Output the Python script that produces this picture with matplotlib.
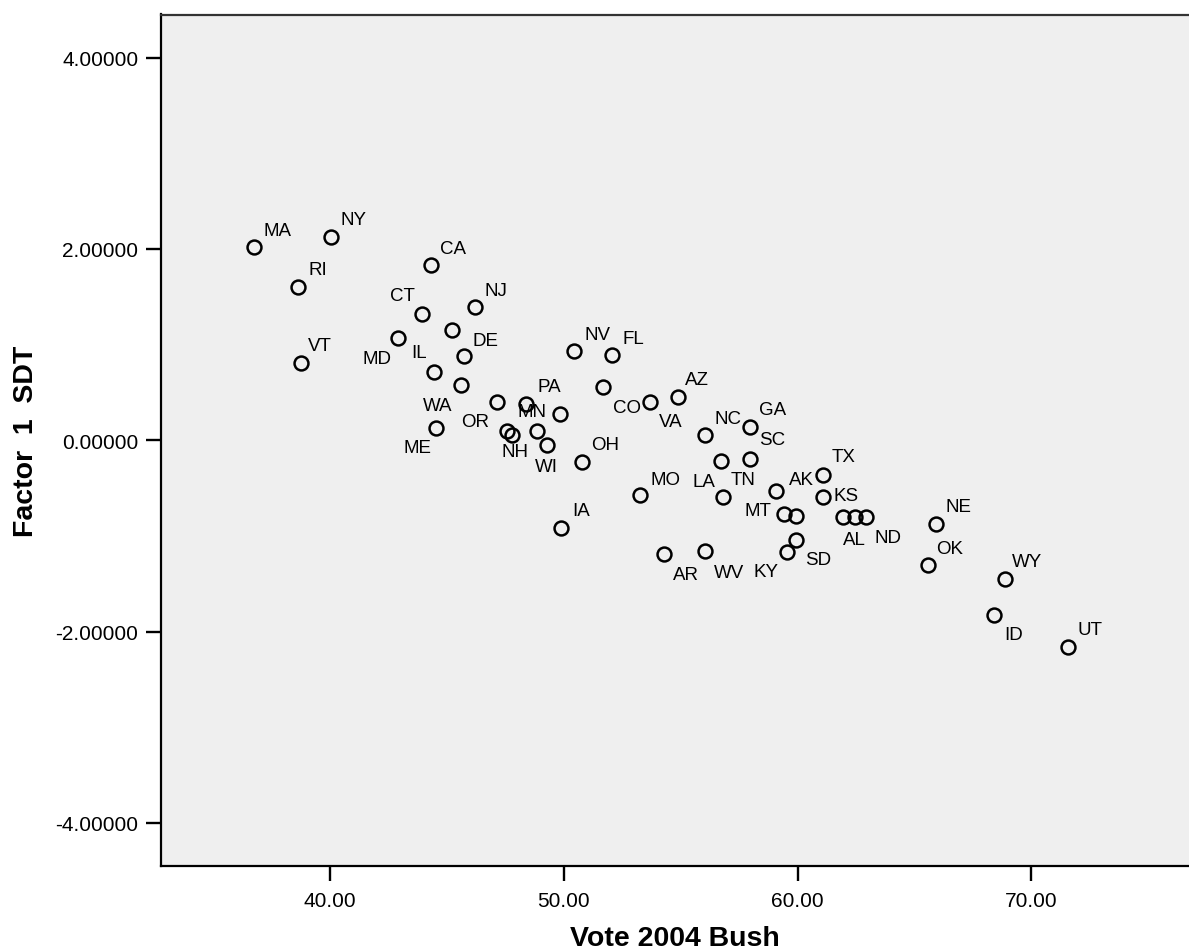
import numpy
import matplotlib
matplotlib.use('Agg')
import matplotlib.pyplot as plt
import matplotlib.ticker

######## DATA ############
states = ['MA', 'NY', 'RI', 'CA', 'CT', 'NJ', 'HI', 'MD', 'VT', 'DE',
          'IL', 'WA', 'ME', 'OR', 'PA', 'MN', 'MI', 'NH', 'WI', 'NM',
          'OH', 'NV', 'FL', 'CO', 'VA', 'AZ', 'NC', 'GA', 'SC', 'LA',
          'TN', 'MO', 'IA', 'AR', 'WV', 'KY', 'SD', 'MT', 'MS', 'IN',
          'TX', 'AK', 'KS', 'AL', 'ND', 'NE', 'OK', 'WY', 'ID', 'UT']

bush2004 = [36.75, 40.06, 38.65, 44.34, 43.94, 46.22, 45.24, 42.91, 38.76, 45.73,
            44.45, 45.62, 44.55, 47.16, 48.40, 47.57, 47.79, 48.86, 49.30, 49.82,
            50.80, 50.44, 52.08, 51.67, 53.67, 54.87, 56.02, 57.97, 57.97, 56.71,
            56.79, 53.28, 49.88, 54.29, 56.05, 59.54, 59.93, 59.07, 59.43, 59.94,
            61.07, 61.07, 61.95, 62.45, 62.91, 65.90, 65.58, 68.87, 68.39, 71.55]

factor1 = [2.016, 2.126, 1.598, 1.828, 1.319, 1.389, 1.155, 1.068, 0.810, 0.877,
           0.716, 0.577, 0.127, 0.402, 0.378, 0.099, 0.057, 0.093, -0.050, 0.277,
           -0.225, 0.929, 0.890, 0.559, 0.402, 0.448, 0.051, 0.141, -0.193, -0.217,
           -0.590, -0.576, -0.917, -1.189, -1.161, -1.168, -1.040, -0.531, -0.771, -0.795,
           -0.367, -0.597, -0.806, -0.806, -0.806, -0.873, -1.307, -1.450, -1.823, -2.164]

# states drawn without a label
noLabel = ['HI', 'MI', 'NM', 'MS', 'IN']

yTicks = [-4, -2, 0, 2, 4]
xTicks = [40, 50, 60, 70]
##############################

# label offsets in pixels (dx right, dy down)
labelOffsets = {
    'MA': (24, -17), 'NY': (22, -17), 'RI': (19, -18), 'CA': (22, -17),
    'CT': (-20, -19), 'NJ': (21, -17), 'MD': (-21, 20), 'VT': (19, -17),
    'DE': (22, -16), 'IL': (-15, -19), 'WA': (-24, 20), 'ME': (-19, 19),
    'OR': (-22, 20), 'PA': (23, -18), 'MN': (25, -19), 'NH': (-22, 20),
    'WI': (-1, 21), 'OH': (23, -17), 'NV': (23, -17), 'FL': (21, -17),
    'CO': (24, 21), 'VA': (21, 20), 'AZ': (19, -18), 'NC': (23, -17),
    'GA': (22, -17), 'SC': (22, -19), 'LA': (-17, 20), 'TN': (21, -17),
    'MO': (25, -16), 'IA': (20, -17), 'AR': (22, 20), 'WV': (24, 21),
    'KY': (-21, 20), 'SD': (22, 20), 'MT': (-18, 19), 'TX': (21, -19),
    'AK': (-21, -18), 'KS': (3, -22), 'AL': (0, 22), 'ND': (22, 20),
    'NE': (23, -17), 'OK': (22, -17), 'WY': (22, -17), 'ID': (20, 20),
    'UT': (22, -18),
}

plt.rcParams['font.family'] = ['Liberation Sans', 'DejaVu Sans']
plt.rcParams['axes.unicode_minus'] = False

fig = plt.figure(figsize=(11.89, 9.53), dpi=100)
ax = fig.add_axes([160.7 / 1189, 1 - 867 / 953, 1 - 160.7 / 1189, (867 - 15.5) / 953])
ax.set_facecolor('#EFEFEF')

######## PLOT ############
ax.plot(bush2004, factor1, linestyle='None', marker='o', markersize=10,
        markerfacecolor='none', markeredgecolor='black', markeredgewidth=1.8, zorder=10)

for i in range(len(states)):
    if states[i] in noLabel:
        continue
    dx, dy = labelOffsets[states[i]]
    ax.annotate(states[i], (bush2004[i], factor1[i]), xytext=(dx, -dy),
                textcoords='offset pixels', ha='center', va='center',
                fontsize=13.5, color='black', zorder=20)

ax.set_xlim(32.76, 76.74)
ax.set_ylim(-4.45, 4.45)
ax.set_xticks(xTicks)
ax.set_yticks(yTicks)
ax.xaxis.set_major_formatter(matplotlib.ticker.FormatStrFormatter('%.2f'))
ax.yaxis.set_major_formatter(matplotlib.ticker.FormatStrFormatter('%.5f'))
ax.tick_params(axis='both', direction='out', length=11, width=1.7, labelsize=15, colors='black')
ax.tick_params(axis='x', pad=7)
ax.tick_params(axis='y', pad=5)

ax.spines['right'].set_visible(False)
ax.spines['top'].set_color('#333333')
for s in ['left', 'bottom', 'top']:
    ax.spines[s].set_linewidth(1.6)

ax.set_xlabel('Vote 2004 Bush', fontsize=20.5, fontweight='bold', labelpad=11)
ax.set_ylabel('Factor  1  SDT', fontsize=20.5, fontweight='bold', labelpad=12)

plt.savefig('out.png', dpi=100)
##############################
